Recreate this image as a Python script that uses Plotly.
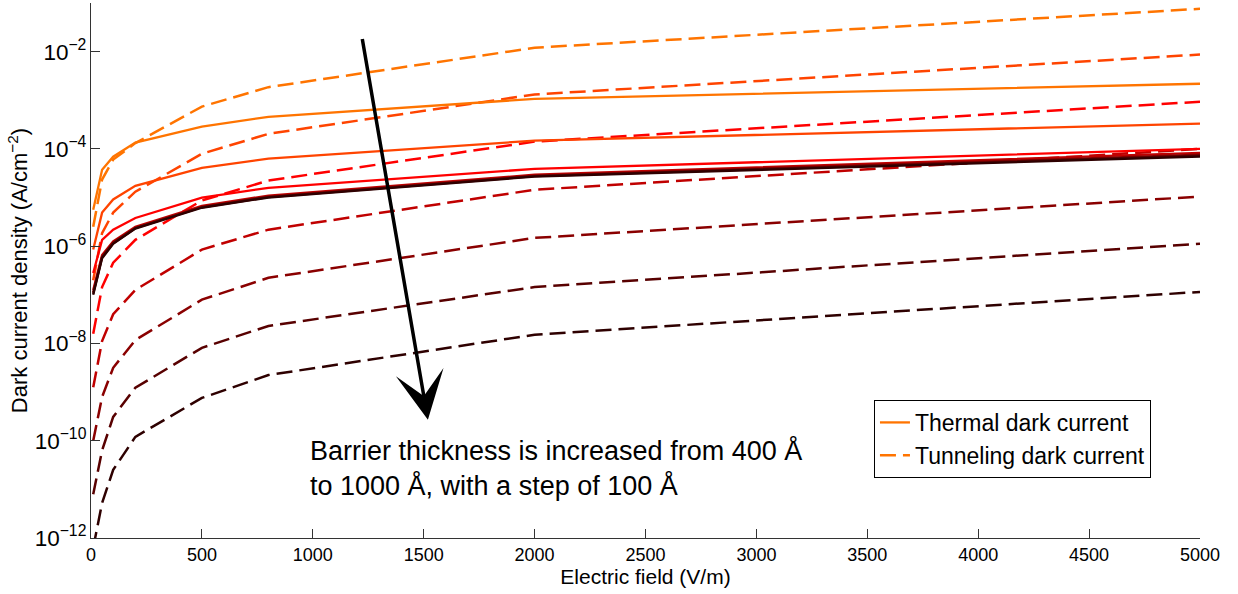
import plotly.graph_objects as go

# Electric field sample points (V/m)
electric_field = [10, 50, 100, 200, 500, 800, 2000, 5000]

# Barrier thickness (Angstrom) for each curve pair
thickness = [400, 500, 600, 700, 800, 900, 1000]

# log10 of thermal dark current density (A/cm^2), one list per thickness
thermal_400 = [-5.25, -4.43, -4.16, -3.87, -3.54, -3.34, -2.97, -2.66]
thermal_500 = [-6.07, -5.31, -5.04, -4.76, -4.39, -4.20, -3.83, -3.48]
thermal_600 = [-6.55, -5.87, -5.66, -5.42, -5.00, -4.80, -4.41, -4.00]
thermal_700 = [-6.90, -6.18, -5.90, -5.60, -5.17, -4.96, -4.53, -4.08]
thermal_800 = [-6.95, -6.21, -5.92, -5.62, -5.19, -4.98, -4.55, -4.12]
thermal_900 = [-6.98, -6.23, -5.94, -5.63, -5.20, -4.99, -4.56, -4.14]
thermal_1000 = [-7.00, -6.25, -5.95, -5.64, -5.21, -5.00, -4.57, -4.16]

# log10 of tunneling dark current density (A/cm^2)
tunnel_400 = [-5.60, -4.63, -4.22, -3.88, -3.13, -2.73, -1.92, -1.12]
tunnel_500 = [-6.70, -5.73, -5.31, -4.88, -4.10, -3.69, -2.88, -2.06]
tunnel_600 = [-7.80, -6.84, -6.34, -5.87, -5.06, -4.65, -3.85, -3.03]
tunnel_700 = [-8.90, -7.95, -7.40, -6.90, -6.07, -5.66, -4.84, -4.00]
tunnel_800 = [-10.00, -9.10, -8.50, -7.93, -7.10, -6.65, -5.83, -4.98]
tunnel_900 = [-11.10, -10.20, -9.51, -8.91, -8.09, -7.64, -6.84, -5.95]
tunnel_1000 = [-12.20, -11.28, -10.60, -9.92, -9.12, -8.65, -7.82, -6.94]

colors = ["#FF7400", "#FF4400", "#FF0000", "#C00000", "#8A0000", "#580000", "#2E0000"]

thermal = [thermal_400, thermal_500, thermal_600, thermal_700, thermal_800, thermal_900, thermal_1000]
tunnel = [tunnel_400, tunnel_500, tunnel_600, tunnel_700, tunnel_800, tunnel_900, tunnel_1000]

FONT = "Arial, Liberation Sans, sans-serif"
fig = go.Figure()

for i, t in enumerate(thickness):
    fig.add_trace(go.Scatter(
        x=electric_field, y=[10 ** v for v in tunnel[i]], mode="lines",
        line=dict(color=colors[i], width=2.5, dash="16px,7px"),
        name="Tunneling dark current", showlegend=(i == 0), legendrank=2,
    ))
for i, t in enumerate(thickness):
    fig.add_trace(go.Scatter(
        x=electric_field, y=[10 ** v for v in thermal[i]], mode="lines",
        line=dict(color=colors[i], width=2.3),
        name="Thermal dark current", showlegend=(i == 0), legendrank=1,
    ))

fig.add_annotation(
    x=1519, y=-9.57, ax=1222, ay=-1.71, xref="x", yref="y", axref="x", ayref="y",
    showarrow=True, arrowhead=3, arrowsize=2.3, arrowwidth=3.5, arrowcolor="black", text="",
)
fig.add_annotation(
    xref="paper", yref="paper", x=0.196, y=0.196, xanchor="left", yanchor="top",
    align="left", showarrow=False,
    text="Barrier thickness is increased from 400 Å<br>to 1000 Å, with a step of 100 Å",
    font=dict(family=FONT, size=27, color="black"),
)

fig.update_layout(
    width=1238, height=594,
    margin=dict(l=91, r=38, t=3, b=56),
    paper_bgcolor="white", plot_bgcolor="white",
    font=dict(family=FONT, color="black"),
    showlegend=True,
    legend=dict(
        x=0.706, y=0.258, xanchor="left", yanchor="top",
        bordercolor="black", borderwidth=1, bgcolor="white",
        font=dict(family=FONT, size=23, color="black"),
        tracegroupgap=0,
    ),
    xaxis=dict(
        range=[0, 5000], dtick=500, tick0=0,
        showline=True, linecolor="#333", linewidth=1,
        ticks="inside", ticklen=9, tickcolor="#333",
        showgrid=False, zeroline=False,
        tickfont=dict(family=FONT, size=18, color="black"),
        title=dict(text="Electric field (V/m)", font=dict(family=FONT, size=21, color="black"), standoff=2),
    ),
    yaxis=dict(
        type="log", range=[-12, -1], dtick=2, tick0=0,
        exponentformat="power",
        showline=True, linecolor="#333", linewidth=1,
        ticks="inside", ticklen=9, tickcolor="#333",
        showgrid=False, zeroline=False,
        tickfont=dict(family=FONT, size=18, color="black"),
        title=dict(text="Dark current density (A/cm<sup>−2</sup>)", font=dict(family=FONT, size=22, color="black"), standoff=0),
    ),
)

fig.write_html("out.html")
